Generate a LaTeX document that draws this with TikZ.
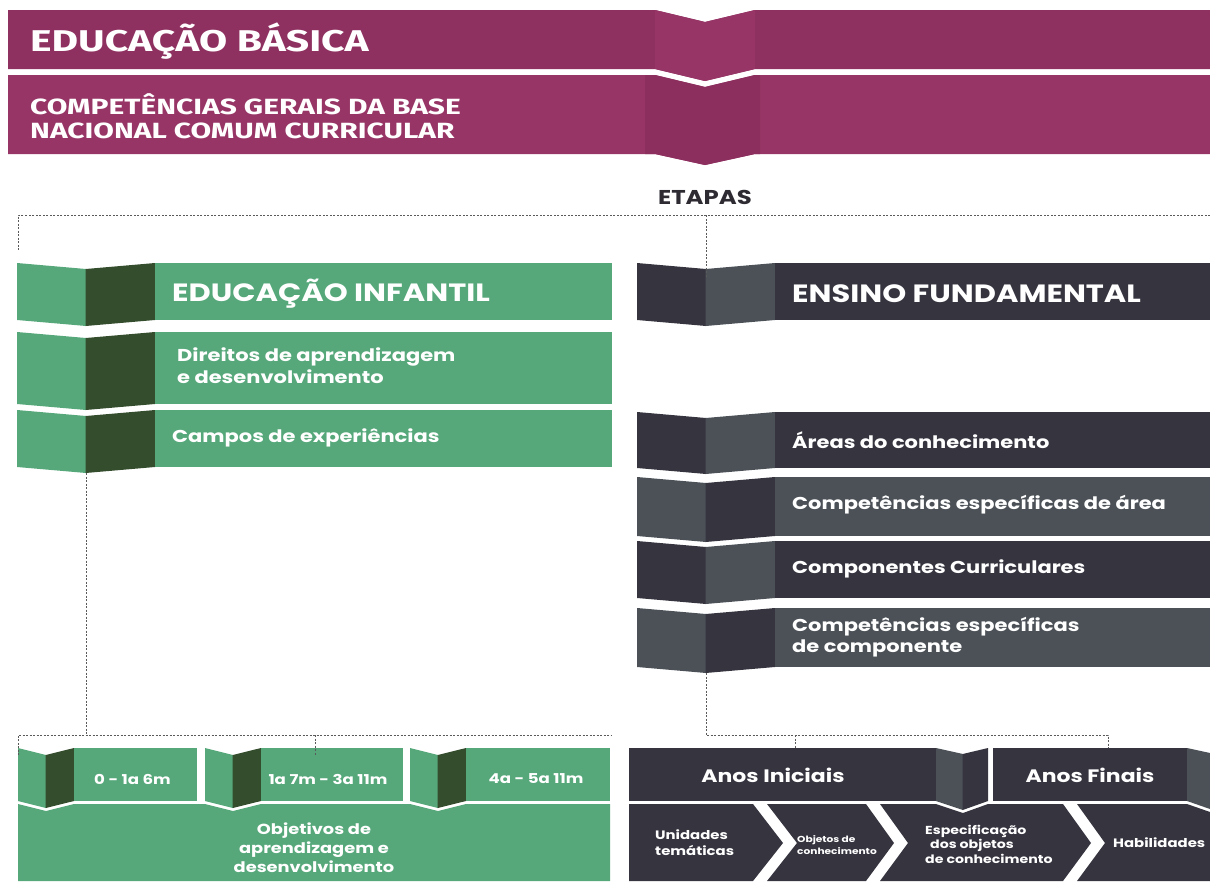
\documentclass[tikz,border=0pt]{standalone}
\usepackage{fontspec}
\setmainfont{Poppins}[FakeStretch=1.22]
\newfontfamily\bannerfont{Fira Sans}[FakeStretch=1.36]
\definecolor{pA}{HTML}{8F3160}
\definecolor{pAm}{HTML}{963566}
\definecolor{pB}{HTML}{973666}
\definecolor{pBm}{HTML}{8C2F5E}
\definecolor{gL}{HTML}{56A87B}
\definecolor{gD}{HTML}{344D2C}
\definecolor{cD}{HTML}{36343F}
\definecolor{cM}{HTML}{4B5157}
\definecolor{etap}{HTML}{2E2B33}
\definecolor{dashc}{HTML}{5A5A5A}
\def\dip{6}
\newcommand\fold[9]{%
  \fill[#7] (#2,#5) -- ({#2+#3},{#5+\dip}) -- ({#2+#3},{#6+\dip}) -- (#2,#6) -- cycle;
  \fill[#8] ({#2+#3-0.3},{#5+\dip}) -- ({#2+2*#3},#5) -- ({#2+2*#3},#6) -- ({#2+#3-0.3},{#6+\dip}) -- cycle;
  \fill[#9] ({#2+2*#3-0.3},#5) rectangle (#4,#6);
  \coordinate (#1-top) at ({#2+#3},{#5+\dip});
  \coordinate (#1-bot) at ({#2+#3},{#6+\dip});
}
\begin{document}
\begin{tikzpicture}[x=1pt,y=-1pt,
  lbl/.style={text=white,inner sep=0pt,align=left},
  dsh/.style={draw=dashc,line width=0.8pt,dash pattern=on 2pt off 1.5pt}]
\useasboundingbox (0,0) rectangle (1210,881);
% ---------- banner ----------
\fill[pA] (8,10) -- (655,10) -- (705,22) -- (755,10) -- (1210,10) -- (1210,69) -- (755,69) -- (705,81) -- (655,69) -- (8,69) -- cycle;
\fill[pAm] (655,10) -- (705,22) -- (755,10) -- (755,69) -- (705,81) -- (655,69) -- cycle;
\fill[pB] (8,75) -- (655,75) -- (705,87) -- (755,75) -- (1210,75) -- (1210,154) -- (755,154) -- (705,165) -- (655,154) -- (8,154) -- cycle;
\fill[pBm] (645,75) -- (655,75) -- (705,87) -- (755,75) -- (760,75) -- (760,154) -- (755,154) -- (705,165) -- (655,154) -- (645,154) -- cycle;
\node[lbl,anchor=west,font=\bannerfont\bfseries\fontsize{30}{34}\selectfont] (eb) at (30,41) {EDUCAÇÃO BÁSICA};
\node[lbl,anchor=west,font=\bannerfont\bfseries\fontsize{22}{24}\selectfont] (cg) at (30,116) {COMPETÊNCIAS GERAIS DA BASE\\NACIONAL COMUM CURRICULAR};
% ---------- etapas ----------
\node[text=etap,inner sep=0pt,font=\bfseries\fontsize{20}{24}\selectfont] (etapas) at (705,197) {ETAPAS};
\coordinate (etL) at (18,215);
\coordinate (etR) at (1210,215);
\coordinate (etM) at (706,215);
% ---------- left column ----------
\fold{ei}{17}{69}{612}{263}{320}{gL}{gD}{gL}
\fold{di}{17}{69}{612}{332}{404}{gL}{gD}{gL}
\fold{ce}{17}{69}{612}{410}{467}{gL}{gD}{gL}
\node[lbl,anchor=west,font=\bfseries\fontsize{25}{30}\selectfont] (eiT) at (172,294) {EDUCAÇÃO INFANTIL};
\node[lbl,anchor=west,font=\bfseries\fontsize{17.2}{22}\selectfont] (diT) at (177,366) {Direitos de aprendizagem\\e desenvolvimento};
\node[lbl,anchor=west,font=\bfseries\fontsize{17.2}{22}\selectfont] (ceT) at (172,438) {Campos de experiências};
% ---------- right column ----------
\fold{ef}{637}{69}{1210}{263}{320}{cD}{cM}{cD}
\fold{ar}{637}{69}{1210}{412}{468}{cD}{cM}{cD}
\fold{ca}{637}{69}{1210}{477}{536}{cM}{cD}{cM}
\fold{cc}{637}{69}{1210}{541}{598}{cD}{cM}{cD}
\fold{cp}{637}{69}{1210}{608}{667}{cM}{cD}{cM}
\node[lbl,anchor=west,font=\bfseries\fontsize{25}{30}\selectfont] (efT) at (792,294) {ENSINO FUNDAMENTAL};
\node[lbl,anchor=west,font=\bfseries\fontsize{17.2}{22}\selectfont] (arT) at (792,440) {Áreas do conhecimento};
\node[lbl,anchor=west,font=\bfseries\fontsize{17.2}{22}\selectfont] (caT) at (792,505) {Competências específicas de área};
\node[lbl,anchor=west,font=\bfseries\fontsize{17.2}{22}\selectfont] (ccT) at (792,569) {Componentes Curriculares};
\node[lbl,anchor=west,font=\bfseries\fontsize{17.2}{21}\selectfont] (cpT) at (792,637) {Competências específicas\\de componente};
% ---------- ages ----------
\def\dip{7}
\fold{a1}{18}{28}{197}{748}{801}{gL}{gD}{gL}
\fold{a2}{205}{28}{403}{748}{801}{gL}{gD}{gL}
\fold{a3}{410}{28}{610}{748}{801}{gL}{gD}{gL}
\fill[gL] (18,804) -- (46,811) -- (74,804) -- (205,804) -- (233,811) -- (261,804) -- (410,804) -- (438,811) -- (466,804) -- (610,804) -- (610,881) -- (18,881) -- cycle;
\node[lbl,font=\bfseries\fontsize{13.6}{16}\selectfont] (a1T) at (132.5,779) {0 - 1a 6m};
\node[lbl,font=\bfseries\fontsize{13.6}{16}\selectfont] (a2T) at (328,779) {1a 7m - 3a 11m};
\node[lbl,font=\bfseries\fontsize{13.6}{16}\selectfont] (a3T) at (536,779) {4a - 5a 11m};
\node[lbl,align=center,font=\bfseries\fontsize{14.6}{19}\selectfont] (obT) at (314,848) {Objetivos de\\aprendizagem e\\desenvolvimento};
% ---------- anos ----------
\fill[cD] (629,748) rectangle (936.3,801);
\fill[cM] (936,748) -- (963,754) -- (963,810) -- (936,801) -- cycle;
\fill[cD] (962.7,754) -- (988,748) -- (988,801) -- (962.7,810) -- cycle;
\fill[cD] (993,748) rectangle (1187.3,801);
\fill[cM] (1187,748) -- (1210,753) -- (1210,809) -- (1187,801) -- cycle;
\node[lbl,font=\bfseries\fontsize{18}{22}\selectfont] (aiT) at (773,775) {Anos Iniciais};
\node[lbl,font=\bfseries\fontsize{18}{22}\selectfont] (afT) at (1090,775) {Anos Finais};
\fill[cD] (629,804) -- (753,804) -- (783,843) -- (753,881) -- (629,881) -- cycle;
\fill[cD] (767,804) -- (866,804) -- (894,843) -- (866,881) -- (767,881) -- (797,843) -- cycle;
\fill[cD] (880,804) -- (936,804) -- (963,813) -- (988,804) -- (1063,804) -- (1091,843) -- (1063,881) -- (880,881) -- (908,843) -- cycle;
\fill[cD] (1077,804) -- (1187,804) -- (1210,812) -- (1210,881) -- (1077,881) -- (1105,843) -- cycle;
\node[lbl,anchor=west,font=\bfseries\fontsize{12.2}{16}\selectfont] (unT) at (655,843) {Unidades\\temáticas};
\node[lbl,anchor=west,font=\bfseries\fontsize{8.7}{12}\selectfont] (objT) at (797,845) {Objetos de\\conhecimento};
\node[lbl,anchor=west,font=\bfseries\fontsize{11.6}{14.5}\selectfont] (esT) at (925,844) {Especificação\\\hspace*{5pt}dos objetos\\de conhecimento};
\node[lbl,anchor=west,font=\bfseries\fontsize{12.2}{16}\selectfont] (haT) at (1113,843) {Habilidades};
% ---------- dashed connectors ----------
\coordinate (eiL) at (18,250);
\coordinate (lj) at (86,735);
\coordinate (lL) at (18,735);
\coordinate (lR) at (612,735);
\coordinate (lM) at (315,735);
\coordinate (rj) at (706,735);
\coordinate (rM) at (795,735);
\coordinate (rR) at (1108,735);
\draw[dsh] (etR) -- (etL) -- (eiL);
\draw[dsh] (etM) -- ([yshift=-9pt]ef-top);
\draw[dsh] (ce-bot) -- (lj);
\draw[dsh] (a1-top -| lL) -- (lL) -- (lR);
\draw[dsh] (lM) -- (lM |- a2-top);
\draw[dsh] (cp-bot) -- (rj) -- (rR) -- (1108,748);
\draw[dsh] (rM) -- (795,748);
\end{tikzpicture}
\end{document}
